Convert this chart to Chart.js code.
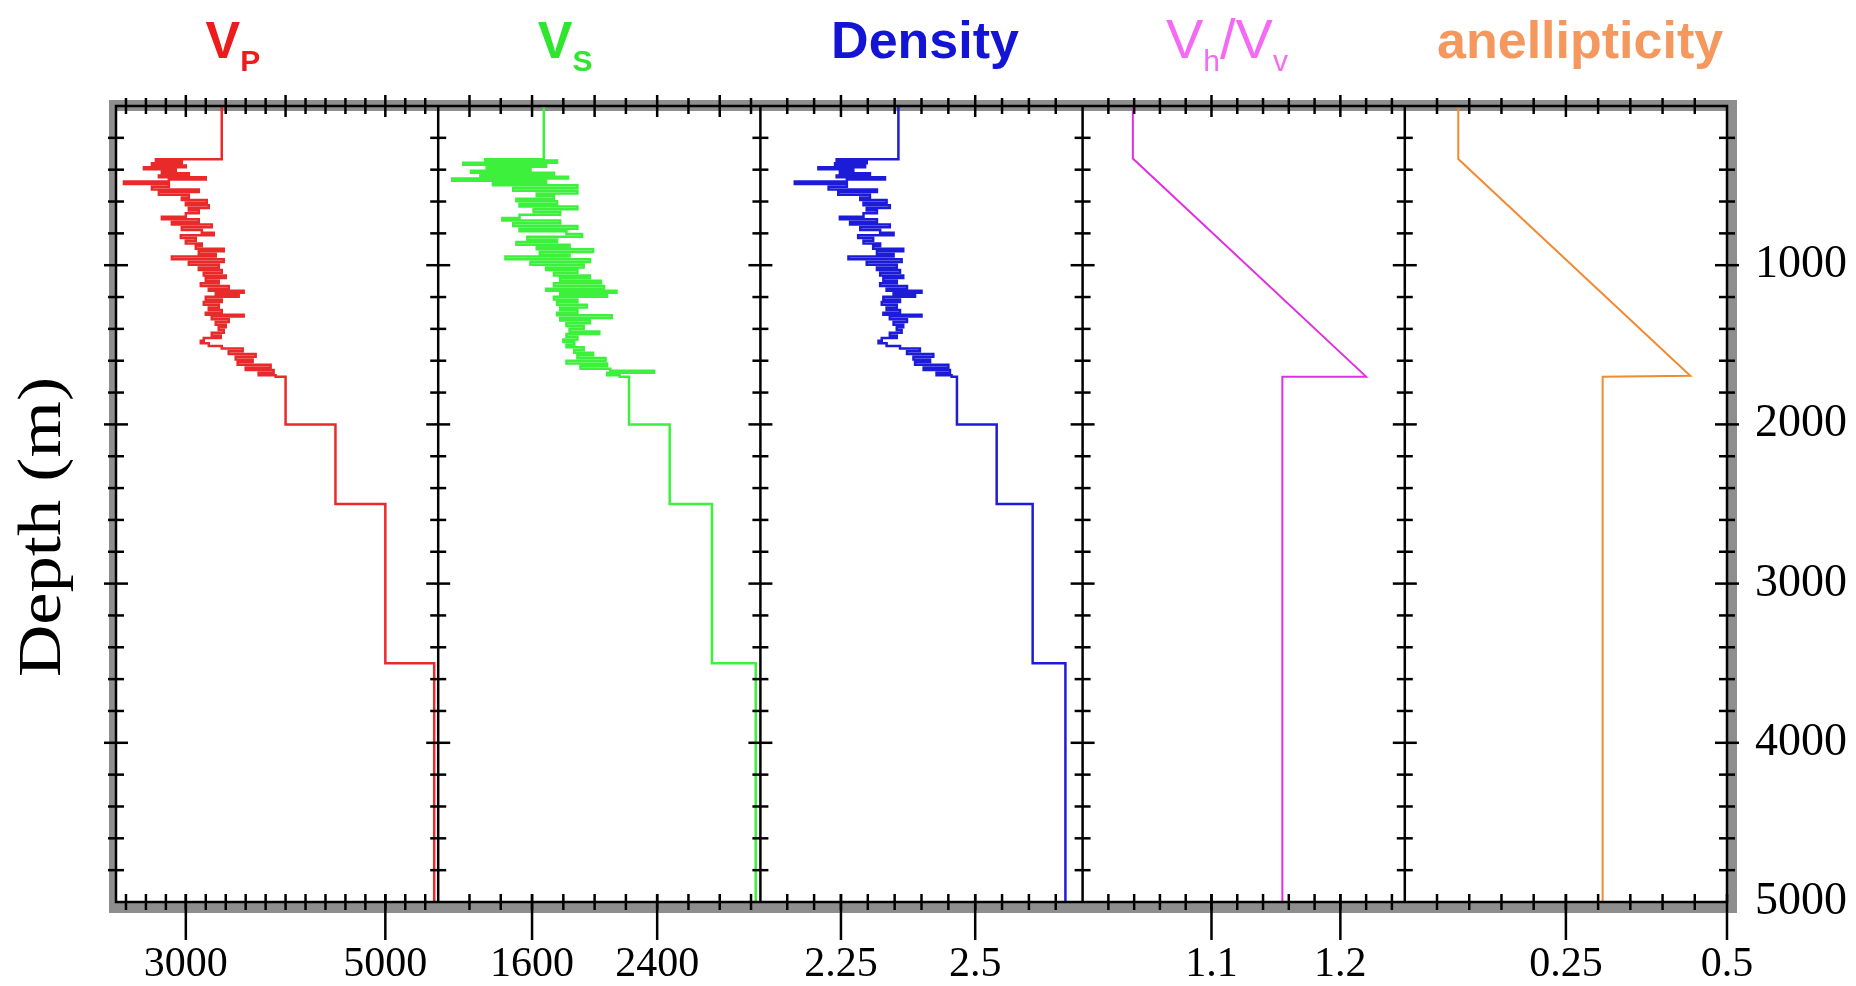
<!DOCTYPE html>
<html><head><meta charset="utf-8">
<script src="https://cdn.jsdelivr.net/npm/chart.js@4.4.0/dist/chart.umd.min.js"></script>
<style>html,body{margin:0;padding:0;background:#fff;overflow:hidden}canvas{display:block}</style>
</head><body>
<canvas id="c" width="1856" height="986"></canvas>
<script>
// ---------- data (depth in m, value) ----------
const depthTicks = [1000, 2000, 3000, 4000, 5000];
const vpTicks = [3000, 5000];
const vsTicks = [1600, 2400];
const rhoTicks = [2.25, 2.5];
const vhvvTicks = [1.1, 1.2];
const anelTicks = [0.25, 0.5];

const vpLog = [[0,3360],[335,2700],[348,2960],[360,2660],[373,3000],[385,2580],[398,2900],[410,2760],[423,3030],[436,2730],[448,3200],[461,2830],[475,2380],[490,2830],[507,2660],[524,3130],[540,2730],[557,3030],[574,2960],[590,3210],[607,3000],[624,3230],[641,3030],[657,3130],[674,3000],[695,2760],[712,3130],[729,2860],[745,3260],[762,2960],[779,3160],[796,3280],[812,2950],[829,3100],[846,3000],[863,3160],[880,3100],[896,3380],[913,3130],[930,3300],[946,2860],[963,3380],[980,3030],[997,3330],[1014,3130],[1030,3360],[1047,3180],[1064,3400],[1081,3200],[1097,3330],[1114,3150],[1131,3430],[1148,3230],[1160,3580],[1173,3300],[1185,3530],[1198,3200],[1215,3360],[1231,3180],[1248,3330],[1265,3230],[1282,3360],[1298,3200],[1311,3580],[1323,3260],[1340,3430],[1357,3300],[1374,3400],[1390,3330],[1407,3380],[1424,3260],[1441,3350],[1457,3180],[1474,3150],[1491,3230],[1508,3360],[1524,3570],[1541,3430],[1558,3700],[1575,3500],[1592,3670],[1608,3520],[1625,3850],[1642,3600],[1658,3880],[1675,3730],[1692,3900],[1700,4000],[2000,4500],[2500,5000],[3500,5490],[5000,5490]];

const vsLog = [[0,1675],[335,1300],[343,1760],[356,1160],[369,1690],[381,1310],[394,1590],[406,1210],[419,1740],[431,1270],[444,1830],[456,1090],[469,1690],[482,1350],[498,1890],[515,1480],[532,1890],[549,1630],[565,1740],[582,1500],[599,1760],[616,1520],[632,1890],[649,1610],[666,1780],[683,1520],[704,1410],[720,1780],[737,1480],[754,1890],[771,1520],[787,1820],[804,1920],[821,1570],[838,1760],[854,1500],[871,1840],[888,1630],[900,1990],[917,1650],[934,1840],[946,1430],[963,1970],[980,1590],[997,1930],[1014,1690],[1030,1890],[1047,1740],[1064,1970],[1081,1780],[1097,2040],[1114,1740],[1131,2060],[1148,1690],[1160,2140],[1173,1780],[1185,2080],[1198,1740],[1215,1890],[1231,1760],[1248,1950],[1265,1780],[1282,1890],[1298,1760],[1315,2110],[1332,1780],[1348,1970],[1365,1820],[1382,1930],[1399,1840],[1416,2030],[1432,1820],[1449,1890],[1466,1800],[1483,1870],[1499,1820],[1516,1930],[1533,1870],[1550,1990],[1566,1890],[1583,2070],[1600,1820],[1617,2080],[1633,1910],[1650,2100],[1663,2380],[1675,2080],[1692,2160],[1700,2220],[2000,2480],[2500,2750],[3500,3030],[5000,3030]];

const rhoLog = [[0,2.357],[335,2.242],[348,2.298],[360,2.239],[373,2.295],[385,2.208],[398,2.273],[410,2.248],[423,2.304],[436,2.242],[448,2.332],[461,2.261],[475,2.164],[490,2.261],[507,2.227],[524,2.317],[540,2.245],[557,2.304],[574,2.286],[590,2.335],[607,2.292],[624,2.341],[641,2.298],[657,2.317],[674,2.292],[695,2.248],[712,2.317],[729,2.267],[745,2.341],[762,2.286],[779,2.323],[796,2.348],[812,2.282],[829,2.310],[846,2.292],[863,2.323],[880,2.310],[896,2.366],[913,2.317],[930,2.348],[946,2.264],[963,2.363],[980,2.298],[997,2.354],[1014,2.317],[1030,2.360],[1047,2.323],[1064,2.366],[1081,2.329],[1097,2.354],[1114,2.323],[1131,2.373],[1148,2.335],[1160,2.400],[1173,2.348],[1185,2.388],[1198,2.329],[1215,2.360],[1231,2.326],[1248,2.354],[1265,2.335],[1282,2.360],[1298,2.329],[1311,2.400],[1323,2.341],[1340,2.373],[1357,2.348],[1374,2.366],[1390,2.354],[1407,2.363],[1424,2.341],[1441,2.354],[1457,2.326],[1474,2.320],[1491,2.335],[1508,2.360],[1524,2.397],[1541,2.373],[1558,2.422],[1575,2.385],[1592,2.416],[1608,2.388],[1625,2.450],[1642,2.404],[1658,2.453],[1675,2.428],[1692,2.456],[1700,2.466],[2000,2.540],[2500,2.607],[3500,2.668],[5000,2.668]];

const vhvvLog = [[0,1.039],[330,1.039],[1700,1.220],[1700,1.155],[5000,1.155]];
const anelLog = [[0,0.083],[333,0.083],[1695,0.443],[1700,0.307],[5000,0.307]];

// titles: [text, isSubscript]
const titles = [
  [['V',0],['P',1]],
  [['V',0],['S',1]],
  [['Density',0]],
  [['V',0],['h',1],['/',0],['V',0],['v',1]],
  [['anellipticity',0]]
];

// ---------- configuration ----------
const panelIds = ['xVp','xVs','xRho','xVhvv','xAnel'];
const panelMin = [2300, 1000, 2.1, 1.0, 0.0];
const panelMax = [5530, 3060, 2.7, 1.25, 0.5];
const panelMinor = [200, 200, 0.05, 0.02, 0.05];
const panelMajor = [1000, 400, 0.25, 0.1, 0.25];
const panelTicks = [vpTicks, vsTicks, rhoTicks, vhvvTicks, anelTicks];
const lineColors = ['#e82a2a','#3cf03c','#1c1cd8','#e22ee2','#f28a32'];
const titleColors = ['#ec1c1c','#2ee62e','#1414d4','#f46af4','#f5985e'];
const titleBold = [true, true, true, false, true];
const titleSize = [52, 52, 52, 56, 52];
const titleCenter = [0.363, 0.394, 0.511, 0.448, 0.544];
const logs = [vpLog, vsLog, rhoLog, vhvvLog, anelLog];
const stepped = [true, true, true, false, false];
const lineWidths = [2.5, 2.5, 2.5, 2, 2];

function xAxis(i) {
  return {
    type: 'linear', axis: 'x', position: 'bottom', stack: 'logs', stackWeight: 1,
    min: panelMin[i], max: panelMax[i], bounds: 'data',
    grid: { display: false, drawTicks: false },
    border: { display: false },
    afterBuildTicks: s => { s.ticks = panelTicks[i].map(v => ({ value: v })); },
    afterFit: s => { s.height = 84; },
    ticks: {
      autoSkip: false, maxRotation: 0, minRotation: 0, padding: 42, color: '#000',
      font: { family: 'Liberation Serif', size: 42, lineHeight: 1 },
      callback: v => String(v)
    }
  };
}

const scales = {};
panelIds.forEach((id, i) => { scales[id] = xAxis(i); });
scales.y = {
  type: 'linear', axis: 'y', position: 'right', reverse: true, min: 0, max: 5000, bounds: 'data',
  grid: { display: false, drawTicks: false },
  border: { display: false },
  afterBuildTicks: s => { s.ticks = depthTicks.map(v => ({ value: v })); },
  afterFit: s => { s.width = 129; },
  ticks: {
    autoSkip: false, padding: 28, color: '#000',
    font: { family: 'Liberation Serif', size: 46, lineHeight: 1 },
    callback: v => String(v)
  }
};

const datasets = logs.map((log, i) => ({
  data: log.map(p => ({ x: p[1], y: p[0] })),
  xAxisID: panelIds[i], yAxisID: 'y',
  borderColor: lineColors[i], borderWidth: lineWidths[i], pointRadius: 0,
  stepped: stepped[i] ? 'after' : false, fill: false, tension: 0,
  borderJoinStyle: 'miter'
}));

function line(ctx, x1, y1, x2, y2) { ctx.beginPath(); ctx.moveTo(x1, y1); ctx.lineTo(x2, y2); ctx.stroke(); }

const panelPlugin = {
  id: 'panels',
  beforeDatasetsDraw(chart) {
    const { ctx, chartArea: a } = chart;
    ctx.save();
    ctx.fillStyle = '#8e8e8e';
    const w = a.right - a.left, h = a.bottom - a.top;
    ctx.fillRect(a.left - 7, a.top - 6, w + 17, 11);
    ctx.fillRect(a.left - 7, a.top - 6, 8, h + 17);
    ctx.fillRect(a.left - 7, a.bottom, w + 17, 11);
    ctx.fillRect(a.right, a.top - 6, 10, h + 17);
    ctx.restore();
  },
  afterDatasetsDraw(chart) {
    const { ctx, chartArea: a } = chart;
    const ys = chart.scales.y;
    ctx.save();
    ctx.strokeStyle = '#000';
    ctx.lineWidth = 2.5;
    ctx.lineCap = 'butt';
    ctx.strokeRect(a.left, a.top, a.right - a.left, a.bottom - a.top);
    const bounds = [a.left];
    panelIds.forEach(id => bounds.push(chart.scales[id].right));
    bounds[bounds.length - 1] = a.right;
    for (let k = 1; k < bounds.length - 1; k++) line(ctx, bounds[k], a.top, bounds[k], a.bottom);
    // depth ticks on every vertical line
    for (let d = 200; d < 5000; d += 200) {
      const y = ys.getPixelForValue(d);
      const L = d % 1000 === 0 ? 12 : 8;
      bounds.forEach(x => line(ctx, x - L, y, x + L, y));
    }
    // x ticks
    panelIds.forEach((id, i) => {
      const s = chart.scales[id];
      const step = panelMinor[i];
      const n0 = Math.ceil(panelMin[i] / step - 1e-6), n1 = Math.floor(panelMax[i] / step + 1e-6);
      for (let n = n0; n <= n1; n++) {
        const v = n * step;
        const x = s.getPixelForValue(v);
        if (x < s.left + 3 || x > s.right - 3) continue;
        const isMajor = Math.abs(v / panelMajor[i] - Math.round(v / panelMajor[i])) < 1e-6;
        const L = isMajor ? 11 : 8;
        line(ctx, x, a.top - L, x, a.top + L);
        line(ctx, x, a.bottom - 8, x, a.bottom + 8);
      }
      panelTicks[i].forEach(v => {
        const x = s.getPixelForValue(v);
        line(ctx, x, a.bottom - 8, x, a.bottom + 38);
      });
    });
    ctx.restore();
  },
  afterDraw(chart) {
    const { ctx, chartArea: a } = chart;
    ctx.save();
    // panel titles
    panelIds.forEach((id, i) => {
      const s = chart.scales[id];
      const wt = titleBold[i] ? 'bold ' : '';
      const big = wt + titleSize[i] + 'px "Liberation Sans"', small = wt + '30px "Liberation Sans"';
      let total = 0;
      titles[i].forEach(([t, sub]) => { ctx.font = sub ? small : big; total += ctx.measureText(t).width; });
      let x = s.left + titleCenter[i] * (s.right - s.left) - total / 2;
      ctx.fillStyle = titleColors[i];
      ctx.textAlign = 'left';
      ctx.textBaseline = 'alphabetic';
      titles[i].forEach(([t, sub]) => {
        ctx.font = sub ? small : big;
        ctx.fillText(t, x, sub ? 71 : 58);
        x += ctx.measureText(t).width;
      });
    });
    // depth title
    ctx.fillStyle = '#000';
    ctx.font = '62px "Liberation Serif"';
    ctx.translate(60, 527);
    ctx.rotate(-Math.PI / 2);
    ctx.scale(1.17, 1);
    ctx.textAlign = 'center';
    ctx.textBaseline = 'alphabetic';
    ctx.fillText('Depth (m)', 0, 0);
    ctx.restore();
  }
};

new Chart(document.getElementById('c'), {
  type: 'line',
  data: { datasets },
  options: {
    responsive: false, animation: false, devicePixelRatio: 1,
    layout: { padding: { left: 116, top: 106, right: 0, bottom: 0 } },
    scales,
    plugins: { legend: { display: false }, tooltip: { enabled: false } }
  },
  plugins: [panelPlugin]
});
</script>
</body></html>
